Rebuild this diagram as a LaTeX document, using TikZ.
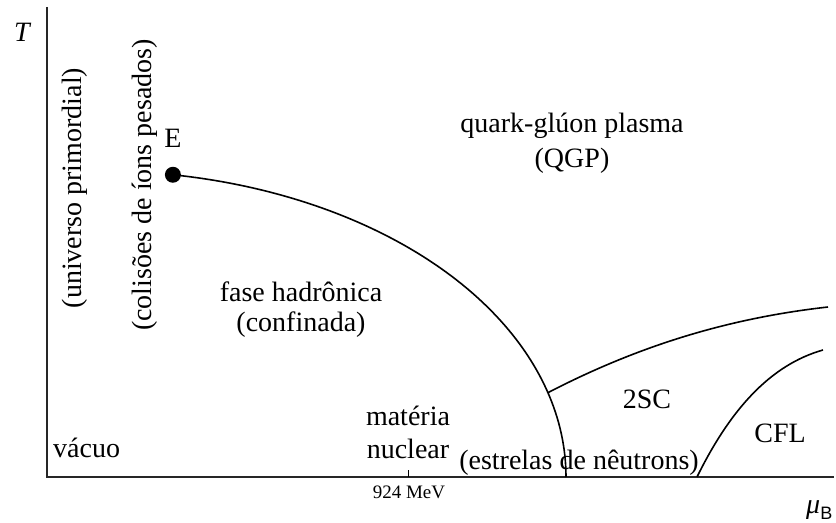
\documentclass[tikz,border=0pt]{standalone}
\usepackage{fontspec}
\setmainfont{Liberation Serif}
\setsansfont{Liberation Sans}
\begin{document}
\begin{tikzpicture}[x=1bp,y=-1bp,
  lbl/.style={font=\fontsize{28bp}{32bp}\selectfont, inner sep=0pt, anchor=base},
  axis/.style={line width=1.3bp, black!85},
  phase/.style={line width=1.6bp, black},
  tick/.style={font=\fontsize{19bp}{22bp}\selectfont, inner sep=0pt, anchor=base}]
\useasboundingbox (0,0) rectangle (836,523);
% axes
\coordinate (O) at (47,477);
\coordinate (Ytop) at (47,7);
\coordinate (Xend) at (834,477);
\draw[axis] (Ytop) -- (O) -- (Xend);
\coordinate (tk0) at (408,477);
\coordinate (tk1) at (408,470);
\draw[line width=1bp] (tk0) -- (tk1);
\node[tick] (tklab) at (409,498) {924 MeV};
\node[lbl, font=\fontsize{28bp}{32bp}\selectfont\itshape] (Tlab) at (22,42) {T};
\node[lbl, anchor=base west] (mulab) at (806,513) {{\itshape μ}\raisebox{-6bp}{\sffamily\fontsize{18bp}{18bp}\selectfont B}};
% critical endpoint and phase boundaries
\coordinate (E) at ({100+466*cos(81)},{477-306*sin(81)});
\coordinate (J) at ({100+466*cos(16)},{477-306*sin(16)});
\draw[phase] plot[domain=81:0, samples=80] ({100+466*cos(\x)},{477-306*sin(\x)});
\fill (E) circle (8);
\coordinate (S2) at (828,307);
\draw[phase] (J) .. controls (640,345) and (730,318) .. (S2);
\coordinate (C0) at (697,477);
\coordinate (C1) at (823,350);
\draw[phase] (C0) .. controls (730,410) and (770,365) .. (C1);
% labels
\node[lbl] (Elab) at (173,148) {E};
\node[lbl, rotate=90] (univ) at (81,188) {(universo primordial)};
\node[lbl, rotate=90] (colis) at (151,185) {(colisões de íons pesados)};
\node[lbl] (qgp1) at (572,133) {quark-glúon plasma};
\node[lbl] (qgp2) at (572,168) {(QGP)};
\node[lbl] (had1) at (301,302) {fase hadrônica};
\node[lbl] (had2) at (301,332) {(confinada)};
\node[lbl] (nuc1) at (408,425) {matéria};
\node[lbl] (nuc2) at (408,458) {nuclear};
\node[lbl, anchor=base west] (vac) at (53,457) {vácuo};
\node[lbl] (estr) at (579,469) {(estrelas de nêutrons)};
\node[lbl] (sc) at (647,408) {2SC};
\node[lbl] (cfl) at (780,442) {CFL};
\end{tikzpicture}
\end{document}
